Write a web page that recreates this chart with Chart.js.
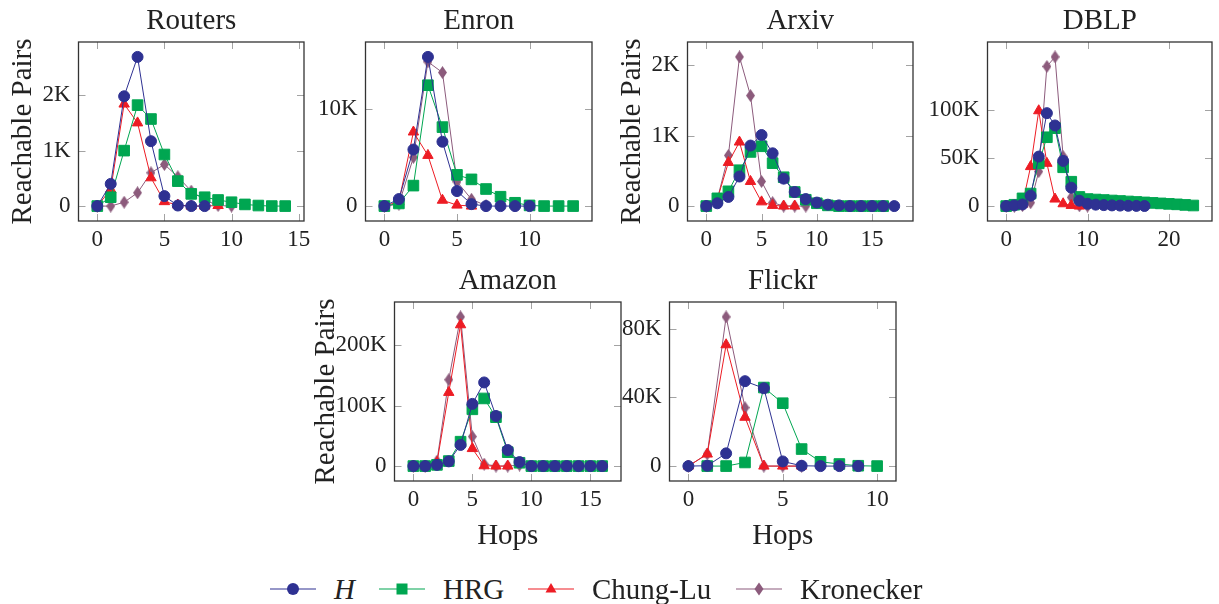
<!DOCTYPE html>
<html>
<head>
<meta charset="utf-8">
<title>Hop plots</title>
<script src="https://cdn.jsdelivr.net/npm/chart.js@4.4.1/dist/chart.umd.min.js"></script>
<style>
  body { margin: 0; background: #fff; width: 1219px; height: 604px; position: relative; overflow: hidden; }
  canvas.panel { position: absolute; }
  .legend-item { position: absolute; top: 574px; height: 30px; display: flex; align-items: center;
                 font-family: "Liberation Serif", serif; font-size: 29px; color: #222; }
  .legend-item svg { margin-right: 18px; }
</style>
</head>
<body>
<script>
// Reachable pairs (in thousands) per number of hops; array index = hops
const routersH    = [0, 0.40, 1.98, 2.69, 1.17, 0.18, 0.01, 0, 0];
const routersHRG  = [0, 0.16, 1.00, 1.82, 1.57, 0.93, 0.45, 0.22, 0.16, 0.11, 0.07, 0.03, 0.01, 0, 0];
const routersCL   = [0, 0.30, 1.84, 1.50, 0.51, 0.08, 0.02, 0, 0, 0.01];
const routersKron = [0, 0, 0.07, 0.24, 0.60, 0.75, 0.53, 0.27, 0.11, 0.01, 0];

const enronH    = [0, 0.72, 5.8, 15.3, 6.6, 1.54, 0.2, 0, 0, 0, 0];
const enronHRG  = [0, 0.27, 2.1, 12.4, 8.1, 3.2, 2.74, 1.75, 0.96, 0.34, 0.07, 0, 0, 0];
const enronCL   = [0, 0.45, 7.6, 5.2, 0.6, 0.1, 0];
const enronKron = [0, 0.2, 5.0, 14.8, 13.7, 2.5, 0.7, 0.05];

const arxivH    = [0, 0.04, 0.13, 0.42, 0.86, 1.01, 0.75, 0.39, 0.20, 0.10, 0.05, 0.02, 0.01, 0, 0, 0, 0, 0];
const arxivHRG  = [0, 0.11, 0.21, 0.51, 0.77, 0.85, 0.61, 0.41, 0.20, 0.09, 0.04, 0.01, 0, 0, 0, 0, 0];
const arxivCL   = [0, 0.10, 0.62, 0.91, 0.35, 0.06, 0.01, 0, 0];
const arxivKron = [0, 0.10, 0.72, 2.12, 1.57, 0.35, 0.05, 0, 0, 0];

const dblpH    = [0, 0.7, 1.7, 10.8, 51.4, 96.5, 83.7, 46.9, 19.1, 5.6, 2.4, 1.5, 1.0, 0.7, 0.5, 0.3, 0.2, 0.1];
const dblpHRG  = [0, 1.4, 8.0, 13.0, 44.4, 71.5, 80.9, 40.3, 25.3, 9.5, 7.3, 6.8, 6.3, 5.8, 5.3, 4.8, 4.3, 3.8, 3.3, 2.8, 2.3, 1.8, 1.2, 0.6];
const dblpCL   = [0, 0, 2.0, 41, 99, 44.4, 7.3, 2.4, 0.7, 0];
const dblpKron = [0, 0, 0.5, 3.5, 35.8, 145, 154.9, 51.4, 9.0, 0.3, 0];

const amazonH    = [0, 0, 2, 7.8, 35, 103, 138.5, 83, 26.6, 6.6, 0, 0, 0, 0, 0, 0, 0];
const amazonHRG  = [0, 0, 2, 8.3, 40.4, 94, 112, 81, 23, 5.5, 0, 0, 0, 0, 0, 0, 0];
const amazonCL   = [0, 0, 6, 122, 234, 29, 0.5, 0, 0];
const amazonKron = [0, 0, 8.3, 143, 247, 48.8, 3.3, 0, 0, 1.7];

const flickrH    = [0, 0.2, 7.4, 49.4, 45.3, 2.7, 0.2, 0, 0, 0];
const flickrHRG  = [null, 0, 0, 2.1, 45.7, 36.6, 9.9, 2.5, 1.2, 0.2, 0];
const flickrCL   = [0, 7, 70.6, 28.4, 0, 0, 0];
const flickrKron = [0, 7, 86.8, 34, 0, 0, 0];

// tick values (hops on x, thousands on y)
const routersXTicks = [0, 5, 10, 15], routersYTicks = [0, 1, 2];
const enronXTicks   = [0, 5, 10],     enronYTicks   = [0, 10];
const arxivXTicks   = [0, 5, 10, 15], arxivYTicks   = [0, 1, 2];
const dblpXTicks    = [0, 10, 20],    dblpYTicks    = [0, 50, 100];
const amazonXTicks  = [0, 5, 10, 15], amazonYTicks  = [0, 100, 200];
const flickrXTicks  = [0, 5, 10],     flickrYTicks  = [0, 40, 80];

const seriesNames = ['H', 'HRG', 'Chung-Lu', 'Kronecker'];

const SERIF = '"Liberation Serif", "Times New Roman", serif';
const TEXT = '#222';
const BIG = 29, SMALL = 23;
const COLORS = ['#2e3192', '#00a651', '#ed1c24', '#8c5b7c'];

function makeDiamond(w, h, color) {
  const c = document.createElement('canvas');
  c.width = w; c.height = h;
  const g = c.getContext('2d');
  g.fillStyle = color;
  g.beginPath();
  g.moveTo(w / 2, 0); g.lineTo(w, h / 2); g.lineTo(w / 2, h); g.lineTo(0, h / 2);
  g.closePath(); g.fill();
  return c;
}

const MARKERS = [
  { pointStyle: 'circle', radius: 5.5 },
  { pointStyle: 'rect', radius: 7.5 },
  { pointStyle: 'triangle', radius: 6 },
  { pointStyle: makeDiamond(9, 13, COLORS[3]), radius: 6 }
];

// box = [left, top, width, height] of the plot frame on the page
const panels = [
  { title: 'Routers', box: [78, 42, 226, 179], yTitle: true, yGap: 55,
    series: [routersH, routersHRG, routersCL, routersKron], xTicks: routersXTicks, yTicks: routersYTicks },
  { title: 'Enron', box: [365, 42, 227, 179],
    series: [enronH, enronHRG, enronCL, enronKron], xTicks: enronXTicks, yTicks: enronYTicks },
  { title: 'Arxiv', box: [687, 42, 226, 179], yTitle: true, yGap: 55,
    series: [arxivH, arxivHRG, arxivCL, arxivKron], xTicks: arxivXTicks, yTicks: arxivYTicks },
  { title: 'DBLP', box: [987, 42, 225, 179],
    series: [dblpH, dblpHRG, dblpCL, dblpKron], xTicks: dblpXTicks, yTicks: dblpYTicks },
  { title: 'Amazon', box: [394, 302, 227, 179], yTitle: true, yGap: 68, xTitle: true,
    series: [amazonH, amazonHRG, amazonCL, amazonKron], xTicks: amazonXTicks, yTicks: amazonYTicks },
  { title: 'Flickr', box: [669, 302, 227, 179], xTitle: true,
    series: [flickrH, flickrHRG, flickrCL, flickrKron], xTicks: flickrXTicks, yTicks: flickrYTicks }
];

const TITLE_H = 42, XZONE_H = 70, RIGHT_PAD = 20, TICK_LEN = 7;

// frame around the plot area, inward tick marks on all four sides,
// and the panel name centred over the frame
const frameTicks = {
  id: 'frameTicks',
  beforeDatasetsDraw(chart) {
    const { ctx, chartArea: a, scales: { x, y } } = chart;
    ctx.save();
    ctx.strokeStyle = '#a3a3a3';
    ctx.lineWidth = 1;
    ctx.beginPath();
    x.ticks.forEach(t => {
      const px = Math.round(x.getPixelForValue(t.value)) + 0.5;
      ctx.moveTo(px, a.bottom); ctx.lineTo(px, a.bottom - TICK_LEN);
      ctx.moveTo(px, a.top); ctx.lineTo(px, a.top + TICK_LEN);
    });
    y.ticks.forEach(t => {
      const py = Math.round(y.getPixelForValue(t.value)) + 0.5;
      ctx.moveTo(a.left, py); ctx.lineTo(a.left + TICK_LEN, py);
      ctx.moveTo(a.right, py); ctx.lineTo(a.right - TICK_LEN, py);
    });
    ctx.stroke();
    ctx.strokeStyle = '#333';
    ctx.lineWidth = 1.3;
    ctx.strokeRect(a.left, a.top, a.width, a.height);
    ctx.restore();
  },
  afterDraw(chart, args, opts) {
    const { ctx, chartArea: a } = chart;
    ctx.save();
    ctx.font = `${BIG}px ${SERIF}`;
    ctx.fillStyle = TEXT;
    ctx.textAlign = 'center';
    ctx.textBaseline = 'alphabetic';
    ctx.fillText(opts.text, (a.left + a.right) / 2, a.top - 13);
    ctx.restore();
  }
};

function extent(arrays) {
  let n = 0, hi = 0;
  arrays.forEach(arr => {
    n = Math.max(n, arr.length - 1);
    arr.forEach(v => { if (v != null) hi = Math.max(hi, v); });
  });
  return { n, hi };
}

panels.forEach(p => {
  const [left, top, w, h] = p.box;
  const yZone = (p.yGap || 55) + BIG / 2 + 9;
  const canvas = document.createElement('canvas');
  canvas.className = 'panel';
  canvas.width = yZone + w + RIGHT_PAD;
  canvas.height = TITLE_H + h + XZONE_H;
  canvas.style.left = (left - yZone) + 'px';
  canvas.style.top = (top - TITLE_H) + 'px';
  document.body.appendChild(canvas);

  // 10% margin around the data, as in the original axes
  const { n, hi } = extent(p.series);

  new Chart(canvas, {
    type: 'line',
    data: {
      datasets: p.series.map((vals, i) => ({
        label: seriesNames[i],
        data: vals.map((v, hop) => ({ x: hop, y: v })),
        borderColor: COLORS[i],
        backgroundColor: COLORS[i],
        borderWidth: 1,
        tension: 0,
        pointStyle: MARKERS[i].pointStyle,
        pointRadius: MARKERS[i].radius,
        pointBorderWidth: 1,
        pointBorderColor: COLORS[i],
        pointBackgroundColor: COLORS[i],
        spanGaps: false
      }))
    },
    options: {
      responsive: false,
      animation: false,
      devicePixelRatio: 1,
      events: [],
      layout: { padding: { left: 0, right: RIGHT_PAD, top: TITLE_H, bottom: 0 } },
      plugins: {
        legend: { display: false },
        tooltip: { enabled: false },
        title: { display: false },
        frameTicks: { text: p.title }
      },
      scales: {
        x: {
          type: 'linear',
          min: -0.1 * n, max: 1.1 * n,
          grid: { display: false, drawTicks: false },
          border: { display: false },
          afterBuildTicks: s => { s.ticks = p.xTicks.map(v => ({ value: v })); },
          afterFit: s => { s.height = XZONE_H; },
          ticks: { padding: 5, color: TEXT, maxRotation: 0, autoSkip: false,
                   font: { family: SERIF, size: SMALL } },
          title: { display: !!p.xTitle, text: 'Hops', color: TEXT,
                   padding: { top: 0, bottom: 0 },
                   font: { family: SERIF, size: BIG, lineHeight: 1 } }
        },
        y: {
          min: -0.1 * hi, max: 1.1 * hi,
          grid: { display: false, drawTicks: false },
          border: { display: false },
          afterBuildTicks: s => { s.ticks = p.yTicks.map(v => ({ value: v })); },
          afterFit: s => { s.width = yZone; },
          ticks: { padding: 8, color: TEXT, autoSkip: false,
                   font: { family: SERIF, size: SMALL },
                   callback: v => (v === 0 ? '0' : v + 'K') },
          title: { display: !!p.yTitle, text: 'Reachable Pairs', color: TEXT,
                   padding: { top: 9, bottom: 0 },
                   font: { family: SERIF, size: BIG, lineHeight: 1 } }
        }
      }
    },
    plugins: [frameTicks]
  });
});

// legend row along the bottom
const legendX = [270, 379, 528, 736];
function markerSvg(i) {
  const c = COLORS[i];
  const shapes = [
    `<circle cx="23" cy="10" r="6" fill="${c}"/>`,
    `<rect x="17.5" y="4.5" width="11" height="11" fill="${c}"/>`,
    `<polygon points="23,4 28.5,13.5 17.5,13.5" fill="${c}"/>`,
    `<polygon points="23,3.5 27.5,10 23,16.5 18.5,10" fill="${c}"/>`
  ];
  return `<svg width="46" height="20" viewBox="0 0 46 20">` +
         `<line x1="0" y1="10" x2="46" y2="10" stroke="${c}" stroke-width="1.2"/>` +
         shapes[i] + `</svg>`;
}
seriesNames.forEach((name, i) => {
  const item = document.createElement('div');
  item.className = 'legend-item';
  item.style.left = legendX[i] + 'px';
  item.innerHTML = markerSvg(i) + (i === 0 ? `<i>${name}</i>` : `<span>${name}</span>`);
  document.body.appendChild(item);
});
</script>
</body>
</html>
